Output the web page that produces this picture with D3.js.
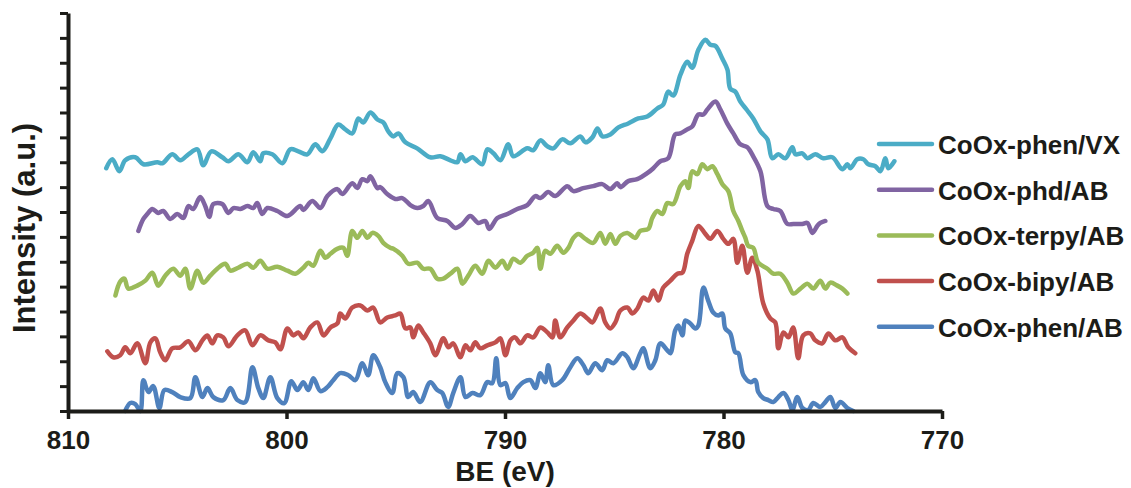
<!DOCTYPE html>
<html>
<head>
<meta charset="utf-8">
<script src="https://cdn.jsdelivr.net/npm/d3@7"></script>
<style>
  html, body { margin: 0; padding: 0; background: #ffffff; }
  svg { display: block; }
  text { font-family: "Liberation Sans", Arial, sans-serif; font-weight: bold; fill: #1c1c18; }
</style>
</head>
<body>
<svg id="chart" width="1131" height="488"></svg>
<script>
// Co 2p XPS spectra, [binding energy (eV), intensity (a.u., stacked)]
const phenVX = [
  [808.25,244],[807.97,253],[807.65,241],[807.38,252],[806.92,255],[806.55,248],[805.91,250],[805.68,249],
  [805.23,258],[804.86,252],[804.49,258],[804.08,263],[803.81,247],[803.44,261],[802.94,255],[802.66,251],
  [802.20,258],[801.79,250],[801.52,260],[801.20,251],[801.06,259],[800.65,258],[800.19,249],[799.83,263],
  [799.46,261],[799.05,258],[798.68,268],[798.36,261],[797.99,274],[797.63,288],[797.31,283],[796.99,279],
  [796.71,294],[796.49,290],[796.16,300],[795.84,293],[795.57,290],[795.34,281],[795.11,276],[794.88,279],
  [794.56,270],[794.02,264],[793.42,255],[792.96,256],[792.50,252],[792.18,250],[792.04,258],[791.81,251],
  [791.49,255],[791.04,248],[790.81,263],[790.53,259],[790.21,252],[789.85,268],[789.62,256],[788.98,264],
  [788.71,262],[788.38,272],[788.06,266],[787.79,264],[787.38,273],[787.01,269],[786.55,276],[786.32,270],
  [786.00,275],[785.77,284],[785.54,276],[785.18,278],[784.81,285],[784.36,289],[783.90,294],[783.49,296],
  [783.03,304],[782.76,308],[782.53,321],[782.30,317],[781.97,338],[781.66,351],[781.43,345],[781.15,363],
  [780.83,373],[780.60,368],[780.37,367],[780.05,354],[779.82,343],[779.69,324],[779.46,321],[779.23,311],
  [778.91,302],[778.64,294],[778.31,281],[777.99,273],[777.77,254],[777.49,258],[777.17,254],[776.85,265],
  [776.71,258],[776.39,259],[776.16,254],[775.80,258],[775.43,254],[775.02,255],[774.56,243],[774.33,248],
  [774.19,244],[773.88,253],[773.60,253],[773.37,248],[773.05,246],[772.82,241],[772.59,254],[772.46,244],
  [772.18,251]
];

const phdAB = [
  [806.78,181],[806.55,193],[806.37,198],[806.14,203],[805.87,199],[805.64,201],[805.32,193],[805.00,198],
  [804.72,194],[804.49,206],[804.27,203],[803.95,215],[803.72,206],[803.53,195],[803.35,208],[802.94,208],
  [802.66,199],[802.43,204],[802.11,203],[801.79,206],[801.52,204],[801.34,209],[801.11,198],[800.88,204],
  [800.42,201],[799.96,196],[799.37,206],[799.23,202],[798.82,211],[798.45,204],[798.13,216],[797.67,223],
  [797.45,218],[796.99,229],[796.76,224],[796.53,233],[796.30,231],[796.16,236],[795.84,224],[795.71,225],
  [795.39,218],[795.02,213],[794.70,214],[794.33,207],[794.01,204],[793.74,206],[793.51,211],[793.10,194],
  [792.64,191],[792.27,184],[791.95,188],[791.59,196],[791.22,189],[790.90,191],[790.72,183],[790.35,194],
  [789.89,198],[789.44,203],[788.98,207],[788.61,216],[788.38,214],[788.02,220],[787.70,216],[787.15,226],
  [786.87,221],[786.42,224],[785.96,226],[785.55,228],[785.18,223],[784.86,229],[784.72,225],[784.36,231],
  [783.95,233],[783.49,239],[783.21,244],[782.89,251],[782.53,254],[782.21,278],[781.98,279],[781.66,283],
  [781.43,286],[781.15,298],[780.92,298],[780.74,303],[780.37,311],[780.14,303],[779.83,289],[779.55,279],
  [779.23,268],[778.91,265],[778.64,256],[778.31,241],[777.99,206],[777.72,203],[777.40,201],[777.08,188],
  [776.80,188],[776.39,188],[776.16,189],[775.93,179],[775.71,186],[775.57,189],[775.34,191]
];

const terpyAB = [
  [807.83,116],[807.61,130],[807.42,133],[807.24,123],[806.83,126],[806.46,131],[806.14,139],[805.87,126],
  [805.55,136],[805.18,143],[804.86,136],[804.63,143],[804.40,123],[804.08,141],[803.81,129],[803.49,136],
  [803.17,143],[802.80,148],[802.57,141],[802.21,144],[801.79,148],[801.52,144],[801.20,151],[800.88,143],
  [800.42,145],[799.96,141],[799.60,138],[799.23,144],[799.00,149],[798.77,146],[798.45,161],[798.22,154],
  [797.99,158],[797.68,163],[797.40,164],[797.22,156],[796.99,181],[796.76,174],[796.53,181],[796.30,174],
  [796.07,179],[795.80,176],[795.57,169],[795.25,164],[795.11,163],[794.70,156],[794.43,148],[794.02,149],
  [793.74,143],[793.42,143],[793.10,133],[792.82,133],[792.50,138],[792.18,143],[791.95,128],[791.68,136],
  [791.36,146],[791.04,138],[790.76,151],[790.44,144],[790.12,151],[789.89,143],[789.62,153],[789.30,149],
  [788.98,156],[788.71,159],[788.52,164],[788.38,143],[788.16,161],[787.93,158],[787.61,166],[787.33,159],
  [787.10,164],[786.87,174],[786.64,178],[786.32,173],[785.96,169],[785.64,179],[785.41,168],[785.18,178],
  [784.95,168],[784.72,176],[784.40,179],[784.04,174],[783.81,181],[783.44,183],[783.26,194],[783.03,201],
  [782.80,198],[782.57,209],[782.30,208],[781.97,226],[781.75,231],[781.61,224],[781.43,241],[781.20,238],
  [780.97,248],[780.74,243],[780.51,246],[780.28,238],[780.05,228],[779.78,221],[779.55,201],[779.32,191],
  [779.14,181],[779.00,174],[778.87,166],[778.64,164],[778.41,149],[777.99,143],[777.72,138],[777.40,138],
  [777.08,129],[776.80,118],[776.48,123],[776.16,128],[775.89,123],[775.57,131],[775.34,123],[775.11,129],
  [774.79,126],[774.56,123],[774.33,118]
];

const bipyAB = [
  [808.20,60],[807.93,54],[807.61,56],[807.38,64],[807.15,58],[806.83,68],[806.46,48],[806.23,69],
  [806.00,73],[805.78,59],[805.55,51],[805.23,63],[804.86,64],[804.49,70],[804.17,61],[803.85,71],
  [803.62,76],[803.40,68],[803.17,76],[802.89,74],[802.66,65],[802.25,76],[801.89,81],[801.56,66],
  [801.20,76],[800.83,71],[800.51,69],[800.28,62],[799.96,83],[799.69,76],[799.46,79],[799.23,73],
  [798.91,84],[798.59,89],[798.31,76],[797.99,84],[797.67,88],[797.54,98],[797.31,93],[796.99,104],
  [796.62,106],[796.30,101],[796.03,104],[795.71,89],[795.39,94],[795.02,96],[794.79,98],[794.56,83],
  [794.33,84],[794.20,74],[793.97,86],[793.74,79],[793.42,68],[793.19,56],[792.82,73],[792.59,64],
  [792.37,68],[792.04,54],[791.81,66],[791.59,61],[791.36,69],[791.13,63],[790.81,66],[790.44,69],
  [790.21,73],[789.98,56],[789.75,71],[789.53,74],[789.30,68],[788.98,76],[788.71,74],[788.38,84],
  [788.06,79],[787.83,74],[787.70,91],[787.47,74],[787.15,84],[786.87,91],[786.55,98],[786.23,93],
  [786.00,89],[785.64,103],[785.41,89],[785.18,83],[784.95,89],[784.72,101],[784.40,104],[784.17,98],
  [783.94,103],[783.67,114],[783.44,111],[783.21,121],[782.98,111],[782.76,124],[782.43,131],[782.11,138],
  [781.88,139],[781.66,158],[781.43,171],[781.15,186],[780.83,178],[780.60,173],[780.28,181],[780.01,173],
  [779.78,168],[779.55,173],[779.37,149],[779.14,166],[778.91,139],[778.68,154],[778.45,141],[778.18,108],
  [777.86,93],[777.63,89],[777.49,63],[777.26,79],[777.03,74],[776.81,84],[776.58,53],[776.35,76],
  [776.03,78],[775.80,71],[775.48,68],[775.20,78],[774.88,71],[774.56,74],[774.29,64],[773.97,58]
];

const phenAB = [
  [807.38,0],[807.15,8],[806.92,7],[806.69,0],[806.55,31],[806.32,19],[806.10,25],[805.82,3],
  [805.59,21],[805.23,19],[804.86,14],[804.40,13],[804.17,34],[803.85,14],[803.62,23],[803.35,14],
  [802.89,11],[802.57,23],[802.25,11],[801.89,9],[801.56,44],[801.29,23],[801.06,13],[800.74,34],
  [800.42,13],[800.10,8],[799.78,30],[799.50,21],[799.23,29],[799.00,21],[798.77,33],[798.45,20],
  [798.13,24],[797.86,31],[797.54,38],[797.17,36],[796.85,31],[796.53,48],[796.26,36],[796.03,56],
  [795.71,44],[795.48,29],[795.16,18],[794.93,38],[794.65,34],[794.43,14],[794.20,19],[793.88,9],
  [793.42,29],[793.10,21],[792.87,18],[792.60,4],[792.37,18],[792.04,34],[791.81,14],[791.49,18],
  [791.13,16],[790.81,29],[790.58,28],[790.40,53],[790.21,26],[789.98,28],[789.76,13],[789.44,23],
  [789.16,29],[788.84,31],[788.61,23],[788.38,38],[788.16,29],[788.02,46],[787.79,26],[787.38,31],
  [787.01,44],[786.69,53],[786.41,46],[786.19,38],[785.87,48],[785.55,41],[785.32,51],[785.04,48],
  [784.63,58],[784.40,54],[784.13,43],[783.81,58],[783.67,63],[783.35,43],[783.12,51],[782.89,68],
  [782.57,61],[782.43,58],[782.21,81],[782.07,86],[781.88,76],[781.75,91],[781.52,88],[781.29,83],
  [781.15,86],[780.92,124],[780.70,111],[780.47,99],[780.24,96],[780.05,98],[779.92,83],[779.69,78],
  [779.46,59],[779.32,58],[779.09,36],[778.77,29],[778.54,31],[778.41,19],[778.18,13],[777.95,11],
  [777.72,9],[777.49,14],[777.26,18],[777.03,11],[776.85,1],[776.62,14],[776.39,3],[776.12,1],
  [775.89,8],[775.57,4],[775.34,9],[775.11,14],[774.88,3],[774.65,9],[774.33,3],[774.06,0]
];

const seriesNames  = ["CoOx-phen/VX", "CoOx-phd/AB", "CoOx-terpy/AB", "CoOx-bipy/AB", "CoOx-phen/AB"];
const seriesData   = [phenVX, phdAB, terpyAB, bipyAB, phenAB];
const seriesColors = ["#4bacc6", "#8064a2", "#9bbb59", "#c0504d", "#4f81bd"];
const xTicks = [810, 800, 790, 780, 770];
const yTicks = d3.range(0, 401, 25);

const svg = d3.select("#chart");
const plot = { left: 68, right: 942, top: 13, bottom: 411 };

const x = d3.scaleLinear().domain([810, 770]).range([plot.left, plot.right]);
const y = d3.scaleLinear().domain([0, 400]).range([plot.bottom, plot.top]);

const line = d3.line()
  .x(d => x(d[0]))
  .y(d => y(d[1]))
  .curve(d3.curveCatmullRom.alpha(0.5));

// spectra: bottom trace first so upper traces sit on top
const order = d3.range(seriesData.length).reverse();
svg.append("g")
  .selectAll("path")
  .data(order)
  .join("path")
  .attr("d", i => line(seriesData[i]))
  .attr("fill", "none")
  .attr("stroke", i => seriesColors[i])
  .attr("stroke-width", 4.5)
  .attr("stroke-linejoin", "round")
  .attr("stroke-linecap", "round");

const axisColor = "#1c1c18";

// x axis
const gx = svg.append("g")
  .attr("transform", `translate(0,${plot.bottom})`)
  .call(d3.axisBottom(x).tickValues(xTicks).tickSize(8).tickSizeOuter(0).tickPadding(12));
gx.select(".domain").attr("stroke", axisColor).attr("stroke-width", 4);
gx.selectAll(".tick line").attr("stroke", axisColor).attr("stroke-width", 3.5);
gx.selectAll(".tick text")
  .style("font-size", "26px")
  .style("font-family", "'Liberation Sans', Arial, sans-serif")
  .style("font-weight", "bold")
  .attr("fill", axisColor);

// y axis (no tick labels)
const gy = svg.append("g")
  .attr("transform", `translate(${plot.left},0)`)
  .call(d3.axisLeft(y).tickValues(yTicks).tickSize(8).tickSizeOuter(0).tickFormat(""));
gy.select(".domain").attr("stroke", axisColor).attr("stroke-width", 4);
gy.selectAll(".tick line").attr("stroke", axisColor).attr("stroke-width", 3);

// axis titles
svg.append("text")
  .attr("x", x(790))
  .attr("y", 481)
  .attr("text-anchor", "middle")
  .style("font-size", "28px")
  .text("BE (eV)");

svg.append("text")
  .attr("transform", `translate(35,228) rotate(-90)`)
  .attr("text-anchor", "middle")
  .style("font-size", "31px")
  .text("Intensity (a.u.)");

// legend
const legend = svg.append("g");
seriesNames.forEach((name, i) => {
  const ly = 144 + i * 45.7;
  legend.append("line")
    .attr("x1", 879).attr("x2", 932)
    .attr("y1", ly).attr("y2", ly)
    .attr("stroke", seriesColors[i])
    .attr("stroke-width", 4.5)
    .attr("stroke-linecap", "round");
  legend.append("text")
    .attr("x", 938)
    .attr("y", ly + 10)
    .style("font-size", "26px")
    .text(name);
});
</script>
</body>
</html>
